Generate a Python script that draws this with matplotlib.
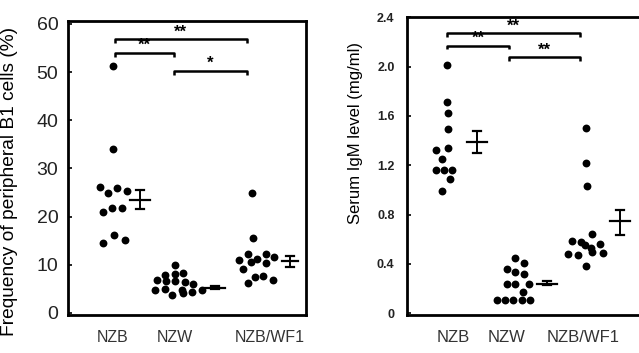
import matplotlib
matplotlib.use("Agg")
import matplotlib.pyplot as plt

plt.rcParams['font.family'] = ['Liberation Sans', 'DejaVu Sans']

# ---------------- data ----------------
categories = ["NZB", "NZW", "NZB/WF1"]

# Panel A: frequency of peripheral B1 cells (%)
b1_nzb = [51.3, 34.0, 26.1, 24.8, 25.9, 25.4, 20.9, 21.7, 21.8, 14.5, 16.2, 15.1]
b1_nzw = [9.9, 7.9, 8.1, 8.2, 6.9, 6.6, 6.7, 6.4, 6.0, 4.8, 5.0, 4.8, 4.3, 4.8, 3.8, 4.1]
b1_f1 = [25.0, 15.5, 12.2, 11.3, 12.2, 11.6, 11.0, 9.1, 10.6, 10.4, 6.2, 7.5, 7.6, 6.8]
b1_mean = [23.4, 5.2, 10.8]
b1_err_lo = [21.5, 4.9, 9.5]
b1_err_hi = [25.6, 5.5, 11.8]
b1_sig = ["**", "**", "*"]  # NZB-NZB/WF1, NZB-NZW, NZW-NZB/WF1
b1_ticks = [0, 10, 20, 30, 40, 50, 60]

# Panel B: serum IgM level (mg/ml)
igm_nzb = [2.01, 1.71, 1.62, 1.49, 1.34, 1.32, 1.25, 1.16, 1.16, 1.16, 1.09, 0.99]
igm_nzw = [0.45, 0.41, 0.355, 0.33, 0.32, 0.234, 0.234, 0.234, 0.175, 0.11, 0.11, 0.11, 0.11, 0.11]
igm_f1 = [1.50, 1.215, 1.035, 0.64, 0.585, 0.575, 0.55, 0.565, 0.53, 0.48, 0.475, 0.50, 0.49, 0.38]
igm_mean = [1.39, 0.24, 0.745]
igm_err_lo = [1.30, 0.225, 0.635]
igm_err_hi = [1.48, 0.26, 0.84]
igm_sig = ["**", "**", "**"]
igm_ticks = [0, 0.4, 0.8, 1.2, 1.6, 2.0, 2.4]
igm_ticklabels = ["0", "0.4", "0.8", "1.2", "1.6", "2.0", "2.4"]

# ---------------- layout (horizontal positions, not data) ----------------
a_label_x = [113, 175, 270]
a_dot_x = [
    [113, 113, 100, 108, 117, 127, 103, 112, 122, 103, 114, 125],
    [175, 165, 175, 183, 157, 166, 175, 185, 193, 155, 165, 182, 192, 202, 172, 183],
    [252, 253, 248, 257, 266, 274, 239, 243, 251, 266, 248, 255, 263, 273],
]
a_mean_x = [140, 215, 290]
a_mean_half = [10, 10, 8]
a_brk_x = [115, 173.5, 246.5]
a_brk_y = [56.8, 54.0, 50.2]

b_label_x = [453, 507, 583]
b_dot_x = [
    [447, 447, 448, 448, 448, 436, 442, 436, 444, 452, 450, 442],
    [515, 524, 507, 515, 524, 507, 515, 529, 523, 497, 505, 513, 522, 530],
    [586, 586, 587, 592, 572, 581, 585, 600, 591, 568, 578, 592, 603, 586],
]
b_mean_x = [477, 547, 620]
b_mean_half = [10, 10, 10]
b_brk_x = [447, 509, 580]
b_brk_y = [2.27, 2.17, 2.075]

fig = plt.figure(figsize=(6.39, 3.53), dpi=100)
axA = fig.add_axes([68 / 639, 38 / 353, 238 / 639, 294 / 353])
axB = fig.add_axes([407 / 639, 38 / 353, 238 / 639, 297.7 / 353])


def draw_panel(ax, dot_x, groups, mean_x, mean_half, means, lo, hi,
               brk_x, brk_y, sig, tick_h, star_fs):
    for xs, vals in zip(dot_x, groups):
        ax.scatter(xs, vals, s=32, color="black", zorder=3, linewidths=0)
    for mx, mh, m, l, h in zip(mean_x, mean_half, means, lo, hi):
        ax.plot([mx - mh, mx + mh], [m, m], color="black", lw=1.6)
        ax.plot([mx, mx], [l, h], color="black", lw=1.4)
        for yy in (l, h):
            ax.plot([mx - 4, mx + 4], [yy, yy], color="black", lw=1.6)
    pairs = [(0, 2), (0, 1), (1, 2)]
    for (i, j), yy, s in zip(pairs, brk_y, sig):
        x0, x1 = brk_x[i], brk_x[j]
        ax.plot([x0, x0, x1, x1], [yy - tick_h, yy, yy, yy - tick_h],
                color="black", lw=1.8, solid_capstyle="butt")
        ax.text((x0 + x1) / 2, yy, s, ha="center", va="bottom",
                fontsize=star_fs, fontweight="bold")


draw_panel(axA, a_dot_x, [b1_nzb, b1_nzw, b1_f1], a_mean_x, a_mean_half,
           b1_mean, b1_err_lo, b1_err_hi, a_brk_x, a_brk_y, b1_sig, 0.8, 12)
draw_panel(axB, b_dot_x, [igm_nzb, igm_nzw, igm_f1], b_mean_x, b_mean_half,
           igm_mean, igm_err_lo, igm_err_hi, b_brk_x, b_brk_y, igm_sig, 0.03, 12)

axA.set_xlim(68, 306)
axA.set_ylim(-0.42, 60.6)
axA.set_yticks(b1_ticks)
axA.set_yticklabels([str(t) for t in b1_ticks], fontsize=14, color="#222222")
axA.set_xticks(a_label_x)
axA.set_xticklabels(categories, fontsize=11.5, color="#333333")
axA.set_ylabel("Frequency of peripheral B1 cells (%)", fontsize=13.8,
               va="center")
axA.yaxis.set_label_coords(-0.245, 0.455)
axA.tick_params(axis="y", direction="in", length=3, width=1.2, pad=7)
axA.tick_params(axis="x", length=0, pad=11)
for sp in axA.spines.values():
    sp.set_linewidth(2.0)

axB.set_xlim(407, 645)
axB.set_ylim(-0.015, 2.4)
axB.set_yticks(igm_ticks)
axB.set_yticklabels(igm_ticklabels, fontsize=9, fontweight="bold", color="#222222")
axB.set_xticks(b_label_x)
axB.set_xticklabels(categories, fontsize=12, color="#333333")
axB.set_ylabel("Serum IgM level (mg/ml)", fontsize=12, va="center")
axB.yaxis.set_label_coords(-0.215, 0.61)
axB.tick_params(axis="y", direction="in", length=3, width=1.2, pad=9)
axB.tick_params(axis="x", length=0, pad=11)
for sp in axB.spines.values():
    sp.set_linewidth(2.0)

fig.savefig("out.png", dpi=100)
